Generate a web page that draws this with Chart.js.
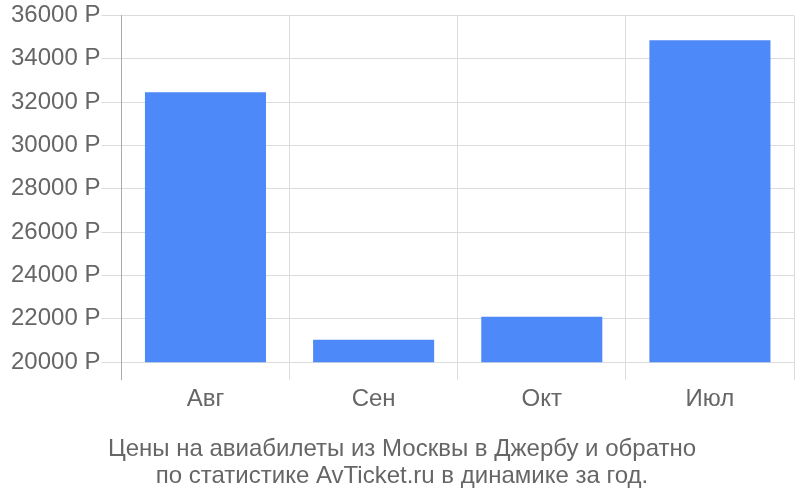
<!DOCTYPE html>
<html lang="ru">
<head>
    <meta charset="UTF-8" />
    <title>Цены на авиабилеты</title>
    <script src="https://cdn.jsdelivr.net/npm/chart.js"></script>
    <style>
        body { margin: 0; background: #fff; }
        .wrap { width: 800px; height: 500px; }
    </style>
</head>
<body>
    <div class="wrap">
        <canvas id="priceChart"></canvas>
    </div>

    <script>
        // data
        const months = ["Авг", "Сен", "Окт", "Июл"];
        const prices = [32450, 21030, 22100, 34850];
        const yTicks = [20000, 22000, 24000, 26000, 28000, 30000, 32000, 34000, 36000];
        const titleLines = [
            "Цены на авиабилеты из Москвы в Джербу и обратно",
            "по статистике AvTicket.ru в динамике за год.",
        ];

        const textColor = "#666";
        const gridColor = "#dcdcdc";
        const axisColor = "#aaa";
        const fontFamily = "Liberation Sans";

        const ctx = document.getElementById("priceChart").getContext("2d");
        const priceChart = new Chart(ctx, {
            type: "bar",
            data: {
                labels: months,
                datasets: [
                    {
                        label: "Цена",
                        data: prices,
                        backgroundColor: "#4d89f9",
                        borderWidth: 0,
                    },
                ],
            },
            options: {
                responsive: true,
                maintainAspectRatio: false,
                animation: false,
                layout: {
                    padding: { left: 10, right: 6, top: 0, bottom: 10 },
                },
                plugins: {
                    legend: { display: false },
                    tooltip: { enabled: false },
                    title: {
                        display: true,
                        position: "bottom",
                        text: titleLines,
                        color: textColor,
                        font: { family: fontFamily, size: 24, weight: "normal", lineHeight: 1.125 },
                        padding: { top: 17, bottom: 0 },
                    },
                },
                scales: {
                    x: {
                        grid: {
                            color: (c) => (c.index === 0 ? axisColor : gridColor),
                            tickLength: 18,
                        },
                        border: { color: gridColor },
                        ticks: {
                            color: textColor,
                            font: { family: fontFamily, size: 24 },
                            padding: 5,
                        },
                    },
                    y: {
                        min: yTicks[0],
                        max: yTicks[yTicks.length - 1],
                        afterBuildTicks: (axis) => {
                            axis.ticks = yTicks.map((v) => ({ value: v }));
                        },
                        grid: {
                            color: gridColor,
                            tickLength: 20,
                        },
                        border: { color: axisColor },
                        ticks: {
                            color: textColor,
                            font: { family: fontFamily, size: 24 },
                            padding: 1,
                            callback: (v) => v + " Р",
                        },
                    },
                },
            },
        });
    </script>
</body>
</html>
